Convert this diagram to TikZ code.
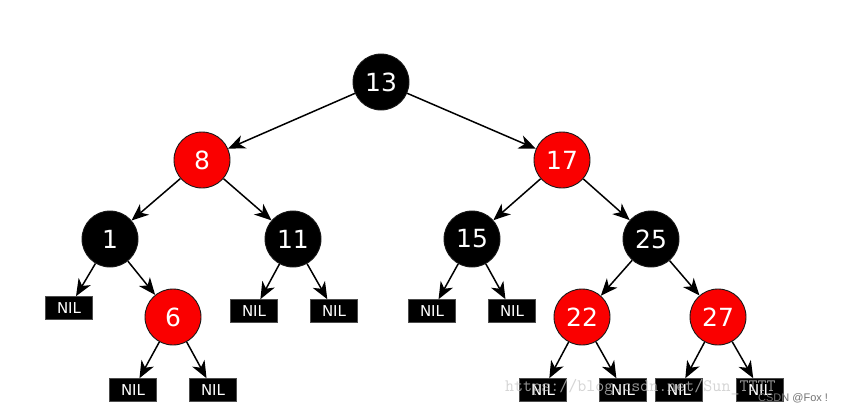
\documentclass[tikz,border=0pt]{standalone}
\usepackage{fontspec}
\setmainfont{DejaVu Sans}
\newfontfamily\csdnfont{Liberation Sans}
\usetikzlibrary{arrows.meta}
\definecolor{rbred}{RGB}{250,0,0}
\tikzset{
  x=1pt, y=-1pt,
  rbnode/.style={circle, minimum size=56pt, inner sep=0pt, draw=black!90, line width=0.9pt,
     text=white, font=\fontsize{25}{25}\selectfont},
  blk/.style={rbnode, fill=black},
  rd/.style={rbnode, fill=rbred},
  nil/.style={rectangle, fill=black, draw=black!70, line width=0.6pt, minimum width=47pt, minimum height=23pt,
     inner sep=0pt, text=white, font=\fontsize{15}{15}\selectfont},
  edge/.style={line width=1.5pt, -{Stealth[length=17pt, width=14pt, inset=5pt]}}
}
\begin{document}
\begin{tikzpicture}
\useasboundingbox (0,0) rectangle (842,413);
\fill[white] (0,0) rectangle (842,413);
\node[blk] (n13) at (381,82) {13};
\node[rd] (n8) at (202,160) {8};
\node[rd] (n17) at (562,160) {17};
\node[blk] (n1) at (110,239) {1};
\node[blk] (n11) at (293,239) {11};
\node[blk] (n15) at (472,239) {15};
\node[blk] (n25) at (651,239) {25};
\node[rd] (n6) at (173,317) {6};
\node[rd] (n22) at (582,317) {22};
\node[rd] (n27) at (718,317) {27};
\node[nil] (a1) at (69,308) {NIL};
\node[nil] (a11l) at (254,311) {NIL};
\node[nil] (a11r) at (334,311) {NIL};
\node[nil] (a15l) at (432,311) {NIL};
\node[nil] (a15r) at (512,311) {NIL};
\node[nil] (a6l) at (133,390) {NIL};
\node[nil] (a6r) at (213,390) {NIL};
\node[nil] (a22l) at (543,390) {NIL};
\node[nil] (a22r) at (623,390) {NIL};
\node[nil] (a27l) at (679,390) {NIL};
\node[nil] (a27r) at (760,390) {NIL};
\draw[edge] (n13) -- (n8);
\draw[edge] (n13) -- (n17);
\draw[edge] (n8) -- (n1);
\draw[edge] (n8) -- (n11);
\draw[edge] (n17) -- (n15);
\draw[edge] (n17) -- (n25);
\draw[edge] (n1) -- (a1);
\draw[edge] (n1) -- (n6);
\draw[edge] (n11) -- (a11l);
\draw[edge] (n11) -- (a11r);
\draw[edge] (n15) -- (a15l);
\draw[edge] (n15) -- (a15r);
\draw[edge] (n25) -- (n22);
\draw[edge] (n25) -- (n27);
\draw[edge] (n6) -- (a6l);
\draw[edge] (n6) -- (a6r);
\draw[edge] (n22) -- (a22l);
\draw[edge] (n22) -- (a22r);
\draw[edge] (n27) -- (a27l);
\draw[edge] (n27) -- (a27r);
\node[anchor=west, inner sep=0pt, text=black!22, opacity=0.75, font=\ttfamily\fontsize{17.5}{17.5}\selectfont] (wm) at (505,387) {https://blog.csdn.net/Sun\_TTTT};
\node[anchor=west, inner sep=0pt, text=black!55, font=\csdnfont\fontsize{11}{11}\selectfont] (cs) at (758,398) {CSDN @Fox !};
\end{tikzpicture}
\end{document}
